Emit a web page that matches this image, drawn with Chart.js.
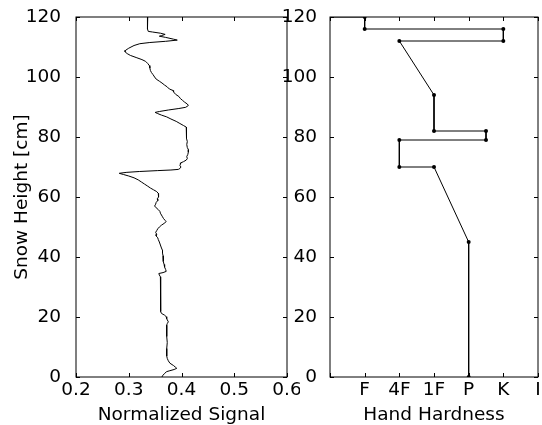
<!DOCTYPE html>
<html>
<head>
<meta charset="utf-8">
<script src="https://cdn.jsdelivr.net/npm/chart.js@4.4.0/dist/chart.umd.min.js"></script>
<style>
  body { margin: 0; background: #fff; }
  #wrap { position: relative; width: 542px; height: 425px; overflow: hidden; }
  canvas { position: absolute; top: 0; }
  #signalChart { left: 0; }
  #hardnessChart { left: 280px; }
</style>
</head>
<body>
<div id="wrap">
  <canvas id="signalChart" width="300" height="425"></canvas>
  <canvas id="hardnessChart" width="262" height="425"></canvas>
</div>
<script>
// signal profile, read top to bottom
const signalHeight = [120, 118, 116, 115.2, 115, 114.6, 114.2, 113.8, 113.6, 113.2, 112.6, 112.3, 111.9, 111.5, 111.1,
  110.5, 109.6, 108.9, 108.4, 107.8, 107.2, 106.5, 105.8, 105.2, 104.5, 103.8, 103.0, 102.2, 101.5, 100.8, 100.0,
  99.3, 98.6, 98.0, 97.3, 96.7, 96.0, 95.5, 95.0, 94.2, 93.5, 92.8, 92.2, 91.6, 91.0, 90.5, 89.9, 89.5, 89.0,
  88.5, 88.2, 87.8, 87.3, 86.7, 86.0, 85.2, 84.5, 83.8, 83.3, 82.5, 81.5, 80.5, 79.5, 78.5, 77.5, 76.5, 75.8,
  75.0, 74.2, 73.5, 72.8, 72.3, 71.8, 71.4, 71.0, 70.5, 70.0, 69.5, 69.2, 69.0, 68.8, 68.5, 68.2, 67.9, 67.5,
  67.0, 66.4, 65.7, 65.0, 64.3, 63.6, 63.0, 62.4, 61.8, 61.2, 60.6, 60.0, 59.4, 58.8, 58.2, 57.6, 57.0, 56.4,
  55.8, 55.2, 54.6, 54.0, 53.4, 52.8, 52.2, 51.8, 51.2, 50.6, 50.0, 49.4, 48.8, 48.2, 47.6, 47.0, 46.4, 45.8,
  45.0, 44.0, 43.0, 42.2, 41.3, 40.4, 39.5, 38.5, 37.5, 36.6, 35.8, 35.2, 34.8, 34.5, 34.0, 33.4, 32.0, 30.5,
  29.0, 27.5, 26.0, 24.5, 23.0, 21.8, 21.2, 20.6, 20.1, 19.4, 18.4, 17.8, 17.3, 15.5, 13.5, 11.5, 9.5, 7.9,
  7.0, 6.2, 5.4, 4.6, 3.8, 3.2, 2.9, 2.5, 2.1, 1.8, 1.2, 0.4, 0.0];
const signalValue = [0.336, 0.335, 0.336, 0.337, 0.345, 0.360, 0.369, 0.362, 0.358, 0.370, 0.385, 0.392, 0.370, 0.340, 0.321,
  0.310, 0.300, 0.294, 0.293, 0.297, 0.303, 0.314, 0.325, 0.332, 0.336, 0.339, 0.340, 0.341, 0.343, 0.346, 0.349,
  0.352, 0.358, 0.363, 0.368, 0.373, 0.377, 0.384, 0.385, 0.389, 0.395, 0.398, 0.402, 0.406, 0.411, 0.413, 0.408, 0.395, 0.375,
  0.358, 0.350, 0.355, 0.362, 0.372, 0.380, 0.390, 0.397, 0.404, 0.409, 0.410, 0.409, 0.410, 0.409, 0.411, 0.410, 0.411, 0.413,
  0.413, 0.412, 0.410, 0.411, 0.409, 0.404, 0.399, 0.398, 0.397, 0.399, 0.397, 0.394, 0.380, 0.355, 0.320, 0.295, 0.282, 0.290,
  0.300, 0.310, 0.318, 0.324, 0.330, 0.336, 0.341, 0.347, 0.353, 0.356, 0.356, 0.357, 0.354, 0.355, 0.352, 0.351, 0.349, 0.352,
  0.356, 0.359, 0.360, 0.362, 0.364, 0.366, 0.369, 0.371, 0.367, 0.362, 0.358, 0.355, 0.353, 0.351, 0.353, 0.352, 0.355, 0.356,
  0.358, 0.360, 0.362, 0.364, 0.364, 0.365, 0.366, 0.365, 0.367, 0.368, 0.370, 0.371, 0.365, 0.357, 0.358, 0.360, 0.360, 0.361,
  0.360, 0.360, 0.361, 0.360, 0.361, 0.361, 0.362, 0.368, 0.371, 0.372, 0.375, 0.373, 0.372, 0.372, 0.372, 0.373, 0.372, 0.372,
  0.372, 0.373, 0.375, 0.378, 0.385, 0.389, 0.391, 0.386, 0.378, 0.372, 0.368, 0.364, 0.363];

// hand hardness profile
const hardnessLabels = ['', 'F', '4F', '1F', 'P', 'K', 'I'];
const hardnessHeight = [120, 120, 116, 116, 112, 112, 94, 82, 82, 79, 79, 70, 70, 45, 0];
const hardnessIndex = [0, 1, 1, 5, 5, 2, 3, 3, 4.5, 4.5, 2, 2, 3, 4, 4];

const heightTicks = { min: 0, max: 120, step: 20 };
const font = { family: 'DejaVu Sans', size: 18.5 };

// matplotlib style: box around the plot with ticks pointing inward
const frameTicks = {
  id: 'frameTicks',
  afterDatasetsDraw(chart) {
    const { ctx, chartArea: a, scales: { x, y } } = chart;
    ctx.save();
    ctx.strokeStyle = '#000';
    ctx.lineWidth = 1;
    ctx.beginPath();
    x.ticks.forEach(t => {
      const px = Math.round(x.getPixelForValue(t.value)) + 0.5;
      ctx.moveTo(px, a.bottom); ctx.lineTo(px, a.bottom - 4);
      ctx.moveTo(px, a.top); ctx.lineTo(px, a.top + 4);
    });
    y.ticks.forEach(t => {
      const py = Math.round(y.getPixelForValue(t.value)) + 0.5;
      ctx.moveTo(a.left, py); ctx.lineTo(a.left + 4, py);
      ctx.moveTo(a.right, py); ctx.lineTo(a.right - 4, py);
    });
    ctx.stroke();
    ctx.strokeRect(a.left, a.top, a.right - a.left, a.bottom - a.top);
    ctx.restore();
  }
};

function fixSize(w, h) {
  return function (scale) {
    if (w !== null) scale.width = w;
    if (h !== null) scale.height = h;
    scale.paddingTop = 0; scale.paddingBottom = 0;
    scale.paddingLeft = 0; scale.paddingRight = 0;
  };
}

Chart.defaults.font.family = 'DejaVu Sans';
Chart.defaults.color = '#000';

new Chart(document.getElementById('signalChart'), {
  type: 'scatter',
  data: {
    datasets: [{
      data: signalValue.map((v, i) => ({ x: v, y: signalHeight[i] })),
      showLine: true,
      borderColor: '#000',
      borderWidth: 1,
      pointRadius: 0,
      tension: 0
    }]
  },
  options: {
    responsive: false,
    animation: false,
    devicePixelRatio: 1,
    layout: { padding: { left: 0, right: 13, top: 17, bottom: 0 } },
    plugins: { legend: { display: false }, tooltip: { enabled: false } },
    scales: {
      x: {
        type: 'linear', min: 0.2, max: 0.6,
        grid: { display: false }, border: { display: false },
        ticks: { stepSize: 0.1, font: font, padding: -6, maxRotation: 0, autoSkip: false,
          callback: v => v.toFixed(1) },
        title: { display: true, text: 'Normalized Signal', font: font, padding: { top: 0, bottom: -1 } },
        afterFit: fixSize(null, 48)
      },
      y: {
        type: 'linear', min: heightTicks.min, max: heightTicks.max,
        grid: { display: false }, border: { display: false },
        ticks: { stepSize: heightTicks.step, font: font, padding: 7, autoSkip: false },
        title: { display: true, text: 'Snow Height [cm]', font: font, padding: { top: 11, bottom: 0 } },
        afterFit: fixSize(76, null)
      }
    }
  },
  plugins: [frameTicks]
});

new Chart(document.getElementById('hardnessChart'), {
  type: 'scatter',
  data: {
    datasets: [{
      data: hardnessIndex.map((v, i) => ({ x: v, y: hardnessHeight[i] })),
      showLine: true,
      borderColor: '#000',
      backgroundColor: '#000',
      borderWidth: 1,
      pointRadius: hardnessIndex.map((v, i) => i === 0 ? 0 : 2),
      pointBorderWidth: 0,
      tension: 0
    }]
  },
  options: {
    responsive: false,
    animation: false,
    devicePixelRatio: 1,
    layout: { padding: { left: 0, right: 1, top: 17, bottom: 0 } },
    plugins: { legend: { display: false }, tooltip: { enabled: false } },
    scales: {
      x: {
        type: 'linear', min: 0, max: 6,
        grid: { display: false }, border: { display: false },
        ticks: { stepSize: 1, font: font, padding: -6, maxRotation: 0, autoSkip: false,
          callback: v => hardnessLabels[v] },
        title: { display: true, text: 'Hand Hardness', font: font, padding: { top: 0, bottom: -1 } },
        afterFit: fixSize(null, 48)
      },
      y: {
        type: 'linear', min: heightTicks.min, max: heightTicks.max,
        grid: { display: false }, border: { display: false },
        ticks: { stepSize: heightTicks.step, font: font, padding: 5, autoSkip: false },
        afterFit: fixSize(50, null)
      }
    }
  },
  plugins: [frameTicks]
});
</script>
</body>
</html>
